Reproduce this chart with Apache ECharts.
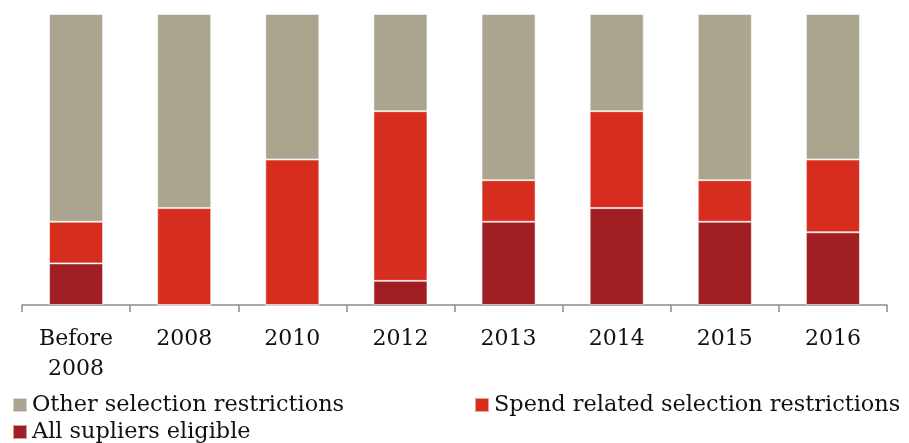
<!DOCTYPE html>
<html>
<head>
<meta charset="utf-8">
<script src="https://cdn.jsdelivr.net/npm/echarts@6/dist/echarts.min.js"></script>
<style>
  html, body { margin: 0; padding: 0; background: #fff; }
  #chart { width: 909px; height: 443px; }
</style>
</head>
<body>
<div id="chart"></div>
<script>
// Share of tenders (%) by supplier selection rule, per year
const categories = ['Before\n2008', '2008', '2010', '2012', '2013', '2014', '2015', '2016'];
const allEligible = [14.3, 0, 0, 8.3, 28.6, 33.3, 28.6, 25];
const spendRestricted = [14.3, 33.3, 50, 58.3, 14.3, 33.3, 14.3, 25];
const otherRestricted = [71.4, 66.7, 50, 33.4, 57.1, 33.4, 57.1, 50];

const FONT = 'DejaVu Serif';
const colors = {
  other: '#aba590',
  spend: '#d72d1e',
  all: '#a11f22'
};

const chart = echarts.init(document.getElementById('chart'));

const barStyle = (c) => ({ color: c, borderColor: 'rgba(255,255,255,0.55)', borderWidth: 1 });

const legendText = { fontFamily: FONT, fontSize: 22.4, color: '#111' };
const legendBase = { itemWidth: 14, itemHeight: 14, itemGap: 6, icon: 'rect', textStyle: legendText, padding: 0 };

chart.setOption({
  animation: false,
  grid: { left: 22, right: 22, top: 14, bottom: 138 },
  legend: [
    Object.assign({ data: ['Other selection restrictions'], left: 12, top: 394 }, legendBase),
    Object.assign({ data: ['Spend related selection restrictions'], left: 474, top: 394 }, legendBase),
    Object.assign({ data: ['All supliers eligible'], left: 12, top: 421 }, legendBase)
  ],
  xAxis: {
    type: 'category',
    data: categories,
    axisLine: { lineStyle: { color: '#8c8c8c', width: 1.5 } },
    axisTick: { show: true, length: 7, lineStyle: { color: '#8c8c8c', width: 1.5 } },
    axisLabel: { fontFamily: FONT, fontSize: 22, color: '#111', margin: 19, lineHeight: 30, interval: 0 }
  },
  yAxis: {
    type: 'value',
    min: 0,
    max: 100,
    show: false,
    splitLine: { show: false }
  },
  series: [
    { name: 'All supliers eligible', type: 'bar', stack: 'total', barWidth: '50%', data: allEligible, itemStyle: barStyle(colors.all) },
    { name: 'Spend related selection restrictions', type: 'bar', stack: 'total', barWidth: '50%', data: spendRestricted, itemStyle: barStyle(colors.spend) },
    { name: 'Other selection restrictions', type: 'bar', stack: 'total', barWidth: '50%', data: otherRestricted, itemStyle: barStyle(colors.other) }
  ]
});
</script>
</body>
</html>
